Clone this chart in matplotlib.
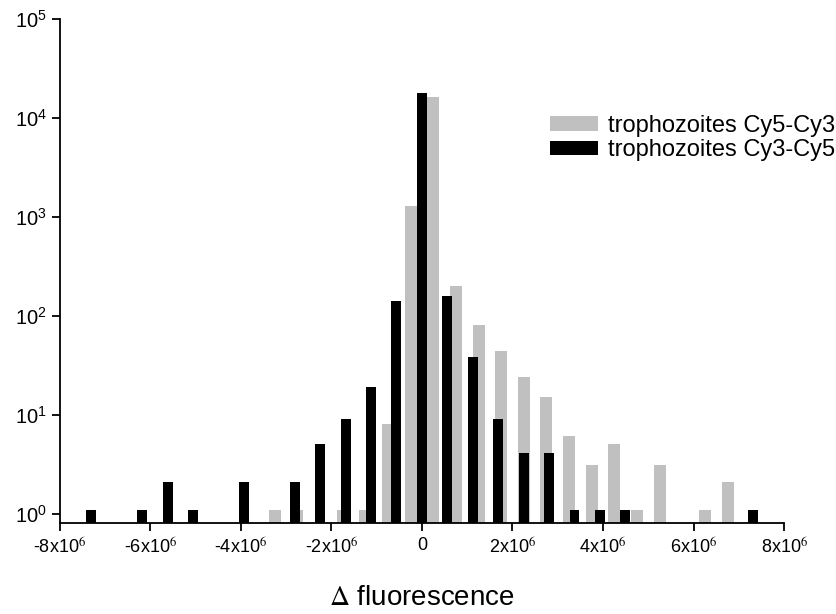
import matplotlib
matplotlib.use("Agg")
import matplotlib.pyplot as plt
import matplotlib.ticker as mticker
import numpy as np

plt.rcParams['font.family'] = ['Liberation Sans', 'DejaVu Sans']
plt.rcParams['mathtext.fontset'] = 'stix'

# trophozoites Cy5-Cy3 (grey), bin centres in units of 1e6
grey_x = [-3.25, -2.75, -1.75, -1.25, -0.75, -0.25, 0.25, 0.75, 1.25, 1.75,
          2.25, 2.75, 3.25, 3.75, 4.25, 4.75, 5.25, 6.25, 6.75]
grey_n = [1, 1, 1, 1, 8, 1300, 16400, 200, 81, 44,
          24, 15, 6, 3, 5, 1, 3, 1, 2]

# trophozoites Cy3-Cy5 (black), bin index * bin width
black_bin = 0.5615
black_k = [-13, -11, -10, -9, -7, -5, -4, -3, -2, -1, 0, 1, 2, 3, 4, 5, 6, 7, 8, 13]
black_n = [1, 1, 2, 1, 2, 2, 5, 9, 19, 140, 18000, 160, 38, 9, 4, 4, 1, 1, 1, 1]

xticks = [-8, -6, -4, -2, 0, 2, 4, 6, 8]
xticklabels = ['-8x10$^{6}$', '-6x10$^{6}$', '-4x10$^{6}$', '-2x10$^{6}$', '0',
               '2x10$^{6}$', '4x10$^{6}$', '6x10$^{6}$', '8x10$^{6}$']

fig = plt.figure(figsize=(8.37, 6.14), dpi=100)
ax = fig.add_axes([0.0711, 0.1474, 0.9370 - 0.0711, 0.9691 - 0.1474])

gx = np.array(grey_x) * 1e6
bx = np.array(black_k) * black_bin * 1e6
ax.bar(gx, grey_n, width=0.265e6, color='#c0c0c0', bottom=0.1,
       label='trophozoites Cy5-Cy3', zorder=2)
ax.bar(bx, black_n, width=0.22e6, color='black', bottom=0.1,
       label='trophozoites Cy3-Cy5', zorder=3)

ax.set_yscale('log')
ax.set_ylim(0.80, 1e5)
ax.set_xlim(-8e6, 8e6)
ax.yaxis.set_minor_locator(mticker.NullLocator())
ax.set_yticks([1, 10, 100, 1000, 1e4, 1e5])
ax.set_xticks(np.array(xticks) * 1e6)
ax.set_xticklabels(xticklabels)

for s in ['top', 'right']:
    ax.spines[s].set_visible(False)
for s in ['left', 'bottom']:
    ax.spines[s].set_linewidth(1.3)
ax.tick_params(direction='out', length=6, width=1.3, pad=4)
ax.tick_params(axis='x', labelsize=13)
ax.tick_params(axis='y', labelsize=14.5, pad=3)

ax.set_xlabel(r'$\Delta$ fluorescence', fontsize=20, labelpad=20)

ax.legend(loc='center left', bbox_to_anchor=(0.657, 0.7752),
          bbox_transform=fig.transFigure, frameon=False,
          fontsize=17, handlelength=2.05, handleheight=0.55,
          handletextpad=0.4, labelspacing=0.1, borderpad=0, borderaxespad=0)

fig.savefig('out.png', dpi=100)
